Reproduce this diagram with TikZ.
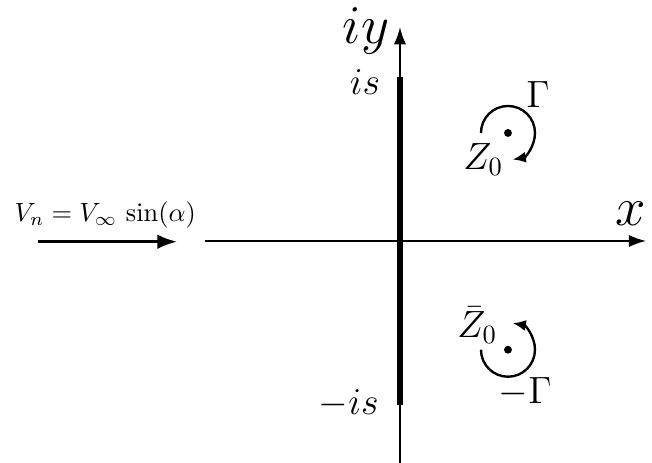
\documentclass[tikz,border=0pt]{standalone}
\usepackage{amsmath, amssymb}
\usepackage{xcolor}
\usetikzlibrary{arrows.meta}

\tikzset{
    axis/.style={line width=0.55pt, -{Latex[length=6.5pt,width=4.6pt]}},
    vortex/.style={line width=0.9pt, -{Latex[length=5pt,width=4.2pt]}},
    point/.style={circle, fill=black, inner sep=0pt, minimum size=3pt}
}

\begin{document}
\begin{tikzpicture}
    \useasboundingbox (-5.333,-2.96) rectangle (3.36,3.213);

    % Axes
    \coordinate (xl) at (-2.6,0);
    \coordinate (xr) at (3.28,0);
    \coordinate (yb) at (0,-2.96);
    \coordinate (yt) at (0,2.85);
    \draw[axis] (xl) -- (xr);
    \draw[axis] (yb) -- (yt);
    \node[font=\huge] (xlab) at (3.08,0.36) {$x$};
    \node[font=\huge, anchor=east] (iylab) at (-0.02,2.8) {$iy$};

    % Flat plate from -is to is
    \coordinate (top) at (0,2.18);
    \coordinate (bot) at (0,-2.19);
    \draw[line width=2pt] (bot) -- (top);
    \node[font=\Large, anchor=east] (islab) at (-0.14,2.12) {$is$};
    \node[font=\Large, anchor=east] (mislab) at (-0.16,-2.17) {$-is$};

    % Vortex and its image
    \node[point] (z0) at (1.44,1.44) {};
    \node[point] (z0bar) at (1.44,-1.45) {};
    \draw[vortex] (z0) ++(180:0.36) arc[start angle=180, end angle=-80, radius=0.36];
    \draw[vortex] (z0bar) ++(180:0.36) arc[start angle=180, end angle=440, radius=0.36];
    \node[font=\Large] (gam) at (1.84,1.95) {$\Gamma$};
    \node[font=\Large] (z0lab) at (1.11,1.09) {$Z_0$};
    \node[font=\Large, inner sep=1pt] (z0barlab) at (1.03,-1.12) {$\bar{Z}_0$};
    \node[font=\Large] (mgam) at (1.67,-2.01) {$-\Gamma$};

    % Normal velocity
    \coordinate (vs) at (-4.83,-0.01);
    \coordinate (ve) at (-2.97,-0.01);
    \draw[line width=1.1pt, -{Latex[length=7.5pt,width=5.5pt]}] (vs) -- (ve);
    \node (vlab) at (-3.93,0.35) {$V_n = V_\infty\,\sin(\alpha)$};
\end{tikzpicture}
\end{document}
